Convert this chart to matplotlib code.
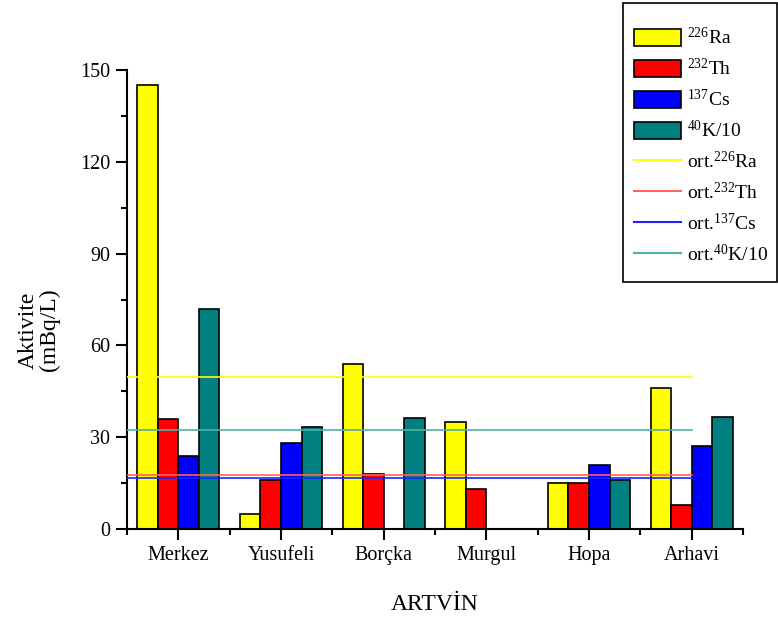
import matplotlib
matplotlib.use("Agg")
import matplotlib.pyplot as plt
import numpy as np
from matplotlib.patches import Patch, Rectangle
from matplotlib.lines import Line2D

plt.rcParams['font.family'] = ['Liberation Serif', 'DejaVu Serif']
plt.rcParams['mathtext.fontset'] = 'custom'
plt.rcParams['mathtext.rm'] = 'Liberation Serif'
plt.rcParams['mathtext.it'] = 'Liberation Serif:italic'

categories = ["Merkez", "Yusufeli", "Borçka", "Murgul", "Hopa", "Arhavi"]
ra226 = [145, 5, 54, 35, 15, 46]
th232 = [36, 16, 18, 13, 15, 8]
cs137 = [24, 28, 0, 0, 21, 27]
k40_10 = [72, 33.4, 36.3, 0, 16, 36.5]

mean_ra = 49.8
mean_th = 17.7
mean_cs = 16.7
mean_k = 32.4

series = [ra226, th232, cs137, k40_10]
bar_labels = [r"$^{\mathrm{226}}$Ra", r"$^{\mathrm{232}}$Th", r"$^{\mathrm{137}}$Cs", r"$^{\mathrm{40}}$K/10"]
bar_colors = ["#ffff00", "#ff0000", "#0000ff", "#008080"]
means = [mean_ra, mean_th, mean_cs, mean_k]
mean_labels = ["ort." + l for l in bar_labels]
mean_colors = ["#ffff00", "#ff6060", "#2020ff", "#50b0a8"]

W, H = 778, 619
fig = plt.figure(figsize=(W / 100, H / 100), dpi=100)
ax = fig.add_axes([127/W, 90/H, (743-127)/W, (529-70)/H])

x = np.arange(len(categories))
w = 0.2
for i, (vals, col) in enumerate(zip(series, bar_colors)):
    ax.bar(x + (i - 1.5) * w, vals, width=w, color=col, edgecolor="black", linewidth=1.2, zorder=2)

for m, col in zip(means, mean_colors):
    ax.plot([-0.5, x[-1]], [m, m], color=col, linewidth=1.2, zorder=3)

ax.set_xlim(-0.5, len(categories) - 0.5)
ax.set_ylim(0, 150)
ax.set_yticks(np.arange(0, 151, 30))
ax.set_yticks(np.arange(0, 151, 15), minor=True)
ax.set_xticks(x)
ax.set_xticklabels(categories)
ax.set_xticks(np.arange(-0.5, len(categories), 1.0), minor=True)
ax.tick_params(axis='both', which='major', direction='out', length=8, width=1.5, labelsize=14.5, pad=4)
ax.tick_params(axis='both', which='minor', direction='out', length=4, width=1.5)
ax.tick_params(axis='x', which='major', pad=4)
for s in ['top', 'right']:
    ax.spines[s].set_visible(False)
for s in ['left', 'bottom']:
    ax.spines[s].set_linewidth(1.5)

ax.set_xlabel("ARTVİN", fontsize=17)
ax.xaxis.set_label_coords(0.5, -(605 - 529) / 459, transform=ax.transAxes)
ax.xaxis.label.set_va('center')
ax.set_ylabel("Aktivite\n(mBq/L)", fontsize=17, linespacing=1.0)
ax.yaxis.set_label_coords((39 - 127) / 616, (529 - 330) / 459)
ax.yaxis.label.set_va('center')

handles = [Patch(facecolor=c, edgecolor="black", linewidth=1.2) for c in bar_colors]
handles += [Line2D([0], [0], color=c, linewidth=1.5) for c in mean_colors]
leg = fig.legend(handles, bar_labels + mean_labels, loc='upper left',
                 bbox_to_anchor=(634/W, 1 - 27/H), borderaxespad=0, borderpad=0,
                 fontsize=14, frameon=False,
                 handlelength=2.4, handleheight=1.0, labelspacing=0.5,
                 handletextpad=0.35)
fig.patches.append(Rectangle((623/W, 1 - 282/H), (777-623)/W, (282-3)/H,
                             transform=fig.transFigure, fill=False,
                             edgecolor='black', linewidth=1.2, zorder=5))

fig.savefig("out.png", dpi=100)
